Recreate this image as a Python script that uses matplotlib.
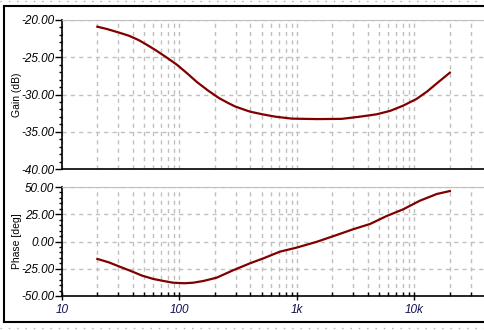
import numpy as np
import matplotlib.pyplot as plt
from matplotlib.ticker import FixedLocator, MultipleLocator, LogLocator, NullFormatter
from matplotlib.lines import Line2D

plt.rcParams['font.family'] = ['Liberation Sans', 'DejaVu Sans']
plt.rcParams['font.style'] = 'italic'
plt.rcParams['axes.unicode_minus'] = False

# frequency response
gain_freq = [20, 24, 30, 37, 45, 53, 62, 78, 95, 116, 140, 176, 218, 260, 297, 350, 398,
             505, 650, 904, 1480, 2400, 3460, 4750, 6200, 8000, 10400, 12800, 15500, 20000]
gain_db = [-20.9, -21.2, -21.65, -22.1, -22.7, -23.35, -24.0, -25.05, -26.0, -27.15, -28.3,
           -29.5, -30.5, -31.15, -31.6, -32.0, -32.3, -32.65, -32.97, -33.24, -33.3, -33.27,
           -32.97, -32.66, -32.2, -31.5, -30.6, -29.6, -28.5, -27.07]

phase_freq = [20, 25, 30, 38, 48, 60, 73, 88, 110, 131, 160, 207, 286, 398, 519, 716, 993,
              1480, 2250, 3000, 4190, 5800, 8000, 11100, 15500, 20000]
phase_deg = [-16.0, -19.1, -22.5, -26.8, -31.3, -34.4, -36.2, -37.8, -38.3, -37.8, -36.2,
             -33.2, -26.4, -20.0, -15.4, -9.3, -5.6, -0.2, 6.5, 11.2, 16.1, 23.4, 29.5,
             37.4, 43.6, 46.3]

xticks = [10, 100, 1000, 10000]
xtick_labels = ['10', '100', '1k', '10k']

W, H = 484, 330
fig = plt.figure(figsize=(W / 100, H / 100), dpi=100)

curve = '#800000'
grid_kw = dict(color='#c0c0c0', linestyle=(0, (3, 3)), linewidth=1)
xmax = 10 ** 4.7
left = 62 / W
width = 3.7 * 117.5 / W


def setup(ax, ylim, ymajor, yminor, label):
    ax.set_xscale('log')
    ax.set_xlim(10, xmax)
    ax.set_ylim(*ylim)
    ax.yaxis.set_major_locator(MultipleLocator(ymajor))
    ax.yaxis.set_minor_locator(MultipleLocator(yminor))
    ax.yaxis.set_major_formatter(plt.FuncFormatter(lambda v, p: '%.2f' % v))
    ax.xaxis.set_major_locator(FixedLocator(xticks))
    ax.xaxis.set_minor_locator(LogLocator(base=10, subs=np.arange(2, 10)))
    ax.xaxis.set_minor_formatter(NullFormatter())
    ax.grid(True, which='major', axis='y', **grid_kw)
    ax.grid(True, which='both', axis='x', **grid_kw)
    ax.spines['top'].set_color('#c0c0c0')
    ax.spines['right'].set_visible(False)
    for s in ('left', 'bottom'):
        ax.spines[s].set_linewidth(1.2)
    ax.tick_params(axis='y', which='major', direction='out', length=5, width=1, pad=0.5,
                   labelsize=8.5)
    ax.tick_params(axis='y', which='minor', direction='out', length=2.5, width=1)
    ax.set_ylabel(label, fontsize=7.5, fontstyle='normal')


ax1 = fig.add_axes([left, (H - 169) / H, width, 149 / H])
ax1.plot(gain_freq, gain_db, color=curve, linewidth=1.6)
setup(ax1, (-40, -20), 5, 1, 'Gain (dB)')
ax1.tick_params(axis='x', which='both', length=0, labelbottom=False)

ax2 = fig.add_axes([left, (H - 296) / H, width, 109 / H])
ax2.plot(phase_freq, phase_deg, color=curve, linewidth=1.6)
setup(ax2, (-50, 50), 25, 5, 'Phase [deg]')
ax2.set_xticklabels(xtick_labels)
ax2.tick_params(axis='x', which='major', direction='inout', length=6, width=1, pad=3,
                labelsize=8.5, labelcolor='#101050')
ax2.tick_params(axis='x', which='minor', direction='in', length=3, width=1)

for ax in (ax1, ax2):
    ax.yaxis.set_label_coords(-40 / (width * W), 0.5)

# outer frame and dotted borders
fx = lambda px: px / W
fy = lambda py: 1 - py / H
frame = [([fx(4), fx(4)], [fy(6), fy(322)]),
         ([fx(4), 1.0], [fy(6), fy(6)]),
         ([fx(4), 1.0], [fy(322), fy(322)])]
for xs, ys in frame:
    fig.add_artist(Line2D(xs, ys, color='black', linewidth=1.5, transform=fig.transFigure))
for py in (1, 328):
    fig.add_artist(Line2D([0, 1], [fy(py), fy(py)], color='#b0b0b0', linewidth=1,
                          linestyle=(0, (1, 5)), transform=fig.transFigure))

fig.savefig('out.png', dpi=100)
